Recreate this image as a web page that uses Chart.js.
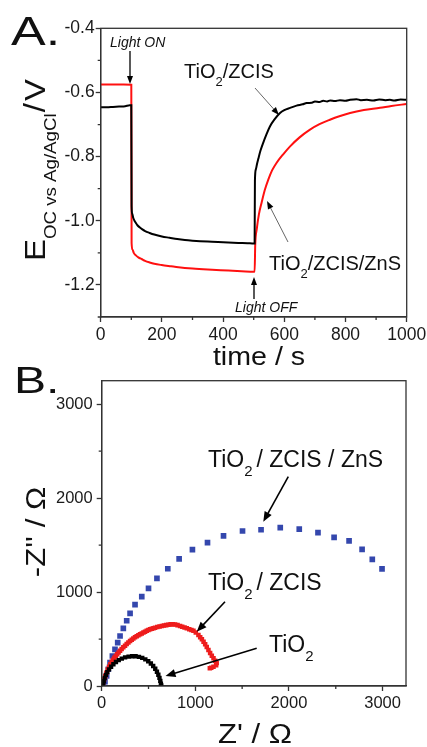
<!DOCTYPE html>
<html><head><meta charset="utf-8">
<script src="https://cdn.jsdelivr.net/npm/chart.js@4.4.1/dist/chart.umd.min.js"></script>
<style>
html,body{margin:0;padding:0;background:#fff;}
#wrap{position:relative;width:427px;height:747px;overflow:hidden;background:#fff;}
canvas{position:absolute;left:0;}
#ca{top:0;} #cb{top:340px;}
</style></head><body>
<div id="wrap"><canvas id="ca" width="427" height="372"></canvas><canvas id="cb" width="427" height="407"></canvas></div>
<script>
// ---------- Panel A: open-circuit voltage decay ----------
const timeZCIS = [0,20,40,60,80,95,100,101,103,106,110,115,120,128,135,145,160,175,200,225,250,275,300,350,400,450,480,500,503,504,507,511,515,522,531,542,553,568,586,600,619,640,660,673,690,700,715,727,740,750,765,782,800,815,836,850,870,891,910,930,945,960,980,1000];
const eocZCIS  = [-0.646,-0.646,-0.645,-0.644,-0.643,-0.640,-0.640,-0.955,-0.978,-0.990,-0.999,-1.007,-1.014,-1.021,-1.026,-1.032,-1.038,-1.043,-1.049,-1.053,-1.057,-1.060,-1.062,-1.065,-1.067,-1.069,-1.070,-1.071,-1.071,-0.875,-0.840,-0.822,-0.807,-0.782,-0.757,-0.730,-0.706,-0.684,-0.664,-0.655,-0.648,-0.641,-0.637,-0.633,-0.632,-0.628,-0.630,-0.626,-0.628,-0.625,-0.627,-0.624,-0.626,-0.623,-0.621,-0.624,-0.623,-0.625,-0.622,-0.624,-0.623,-0.625,-0.622,-0.623];
const timeZnS  = [0,25,50,75,100,101,104,108,115,123,135,145,160,175,199,230,254,300,350,417,460,500,503,505,510,517,526,536,548,560,575,597,619,650,684,715,749,780,815,860,913,950,1000];
const eocZnS   = [-0.575,-0.575,-0.575,-0.575,-0.576,-1.070,-1.090,-1.100,-1.108,-1.114,-1.120,-1.125,-1.130,-1.134,-1.138,-1.142,-1.145,-1.149,-1.152,-1.155,-1.157,-1.159,-1.159,-1.075,-1.026,-0.980,-0.943,-0.905,-0.871,-0.843,-0.819,-0.792,-0.768,-0.740,-0.716,-0.699,-0.685,-0.674,-0.664,-0.655,-0.648,-0.642,-0.636];
const timeTicks = [0,200,400,600,800,1000];
const timeTickLabels = ['0','200','400','600','800','1000'];
const timeMinorTicks = [100,300,500,700,900];
const eocTicks = [-1.2,-1.0,-0.8,-0.6,-0.4];
const eocTickLabels = ['-1.2','-1.0','-0.8','-0.6','-0.4'];
const eocMinorTicks = [-1.3,-1.1,-0.9,-0.7,-0.5];

// ---------- Panel B: Nyquist plots ----------
const zReTiO2 = [15,22,32,45,60,78,100,125,152,182,215,250,287,325,362,398,433,466,497,525,550,572,590,605,617,626,632,636];
const zImTiO2 = [15,50,85,118,148,177,205,232,256,276,292,305,313,317,316,310,299,283,263,240,213,184,152,120,87,55,25,5];
const zReZCIS = [8,15,25,38,50,64,78,92,107,121,135,150,165,180,196,213,231,249,267,285,303,321,338,356,374,392,410,428,446,463,481,499,517,535,553,570,594,618,642,665,689,712,736,760,784,810,837,860,885,909,935,958,980,1005,1033,1052,1070,1088,1105,1122,1140,1158,1176,1194,1212,1228,1222,1194,1170,1155];
const zImZCIS = [10,35,70,105,140,175,205,232,259,280,300,319,338,357,376,394,412,429,446,463,479,492,505,518,529,540,550,560,569,578,587,595,603,609,615,620,627,633,638,643,648,652,656,657,655,648,638,630,622,614,603,595,588,570,543,520,497,470,444,414,383,352,322,295,269,245,222,205,195,188];
const zReZnS  = [18,35,53,71,89,114,142,171,196,231,267,303,356,428,500,590,706,827,969,1130,1301,1504,1702,1907,2110,2310,2482,2642,2781,2890,2994];
const zImZnS  = [8,46,106,178,248,319,390,461,532,614,695,773,866,952,1039,1145,1248,1354,1452,1527,1598,1650,1663,1686,1670,1633,1582,1545,1455,1348,1247];
const zTicks = [0,1000,2000,3000];
const zTickLabels = ['0','1000','2000','3000'];
const zMinorTicks = [500,1500,2500];

// ---------- helpers ----------
const FF = "'Liberation Sans', Arial, Helvetica, sans-serif";
function pairs(xs, ys){ return xs.map((x,i)=>({x:x, y:ys[i]})); }
function txt(ctx, parts, x, y, o){
  o = o || {};
  ctx.save();
  ctx.translate(x, y);
  if (o.rot) ctx.rotate(o.rot);
  ctx.scale(o.sx || 1, 1);
  ctx.fillStyle = o.color || '#111';
  ctx.textBaseline = 'alphabetic';
  ctx.textAlign = 'left';
  let total = 0;
  parts.forEach(p => { ctx.font = (p.it ? 'italic ' : '') + p.s + 'px ' + FF; p.w = ctx.measureText(p.t).width + (p.g || 0); total += p.w; });
  let cx = o.align === 'center' ? -total/2 : (o.align === 'right' ? -total : 0);
  parts.forEach(p => { ctx.font = (p.it ? 'italic ' : '') + p.s + 'px ' + FF; ctx.fillText(p.t, cx, p.dy || 0); cx += p.w; });
  ctx.restore();
}
function arrow(ctx, x1, y1, x2, y2, o){
  o = o || {};
  const a = Math.atan2(y2-y1, x2-x1), hl = o.hl || 8, hw = o.hw || 3;
  ctx.save();
  ctx.strokeStyle = o.line || '#000'; ctx.lineWidth = o.lw || 1.2;
  ctx.beginPath(); ctx.moveTo(x1, y1); ctx.lineTo(x2 - Math.cos(a)*hl*0.7, y2 - Math.sin(a)*hl*0.7); ctx.stroke();
  ctx.fillStyle = o.head || '#000';
  ctx.beginPath(); ctx.moveTo(x2, y2);
  ctx.lineTo(x2 - hl*Math.cos(a) + hw*Math.sin(a), y2 - hl*Math.sin(a) - hw*Math.cos(a));
  ctx.lineTo(x2 - hl*Math.cos(a) - hw*Math.sin(a), y2 - hl*Math.sin(a) + hw*Math.cos(a));
  ctx.closePath(); ctx.fill();
  ctx.restore();
}
function frameAndMinor(chart, xs, ys, len){
  const {ctx, chartArea: a, scales} = chart;
  ctx.save();
  ctx.strokeStyle = '#333'; ctx.lineWidth = 1.3;
  ctx.strokeRect(a.left, a.top, a.right - a.left, a.bottom - a.top);
  ctx.beginPath();
  xs.forEach(v => { const p = scales.x.getPixelForValue(v); ctx.moveTo(p, a.bottom); ctx.lineTo(p, a.bottom + len); });
  ys.forEach(v => { const p = scales.y.getPixelForValue(v); ctx.moveTo(a.left, p); ctx.lineTo(a.left - len, p); });
  ctx.stroke();
  ctx.restore();
}
function fixTicks(values){ return s => { s.ticks = values.map(v => ({value: v})); }; }
function fixSize(prop, val){ return s => { s[prop] = val; s.paddingTop = 0; s.paddingBottom = 0; s.paddingLeft = 0; s.paddingRight = 0; }; }
function labelFor(values, labels){ return v => labels[values.findIndex(t => Math.abs(t - v) < 1e-6)]; }
const axisCommon = {
  border: {display: true, color: '#333', width: 1.3},
  grid: {drawOnChartArea: false, drawTicks: true, tickLength: 5, tickColor: '#333', tickWidth: 1.3}
};

// ---------- Chart A ----------
const plugA = {
  id: 'annA',
  afterDraw(chart){
    const ctx = chart.ctx;
    frameAndMinor(chart, timeMinorTicks, eocMinorTicks, 3);
    txt(ctx, [{t:'A.', s:40}], 11, 45, {sx:1.3});
    txt(ctx, [{t:'time / s', s:26}], 259, 365, {align:'center', sx:1.1});
    txt(ctx, [{t:'E', s:30}, {t:'OC vs Ag/AgCl', s:17, dy:11, g:1}, {t:'/', s:30, g:2}, {t:'V', s:30}], 45, 170, {rot:-Math.PI/2, align:'center', sx:1.1});
    txt(ctx, [{t:'Light ON', s:14, it:true}], 110, 47);
    arrow(ctx, 130, 51, 130, 84, {lw:1.3, hl:8, hw:3});
    txt(ctx, [{t:'Light OFF', s:14, it:true}], 235, 312);
    arrow(ctx, 254, 299, 254, 277, {lw:1.3, hl:8, hw:3});
    txt(ctx, [{t:'TiO', s:20}, {t:'2', s:13, dy:8}, {t:'/ZCIS', s:20}], 184, 78);
    arrow(ctx, 255, 88, 279, 115, {line:'#666', lw:1, hl:8, hw:3});
    txt(ctx, [{t:'TiO', s:20}, {t:'2', s:13, dy:8}, {t:'/ZCIS/ZnS', s:20}], 269, 270);
    arrow(ctx, 288, 242, 267, 201, {line:'#666', lw:1, hl:8, hw:3});
  }
};
new Chart(document.getElementById('ca'), {
  type: 'line',
  data: {
    datasets: [
      {label: 'TiO2/ZCIS', data: pairs(timeZCIS, eocZCIS), borderColor: '#000', borderWidth: 2, pointRadius: 0, cubicInterpolationMode: 'monotone'},
      {label: 'TiO2/ZCIS/ZnS', data: pairs(timeZnS, eocZnS), borderColor: '#ff1010', borderWidth: 2, pointRadius: 0, cubicInterpolationMode: 'monotone'}
    ]
  },
  options: {
    responsive: false, animation: false, devicePixelRatio: 1,
    layout: {padding: {left: 0, right: 20.3, top: 28.3, bottom: 0}},
    plugins: {legend: {display: false}, tooltip: {enabled: false}},
    scales: {
      x: Object.assign({type: 'linear', min: 0, max: 1000,
        afterBuildTicks: fixTicks(timeTicks), afterFit: fixSize('height', 55),
        ticks: {color: '#1a1a1a', font: {family: FF, size: 17.5}, padding: 3, maxRotation: 0, autoSkip: false,
          callback: labelFor(timeTicks, timeTickLabels)}}, axisCommon),
      y: Object.assign({type: 'linear', min: -1.3, max: -0.4,
        afterBuildTicks: fixTicks(eocTicks), afterFit: fixSize('width', 100.7),
        ticks: {color: '#1a1a1a', font: {family: FF, size: 17.5}, padding: 1, autoSkip: false,
          callback: labelFor(eocTicks, eocTickLabels)}}, axisCommon)
    }
  },
  plugins: [plugA]
});

// ---------- Chart B ----------
const OB = 340;
const plugB = {
  id: 'annB',
  afterDraw(chart){
    const ctx = chart.ctx;
    frameAndMinor(chart, zMinorTicks, zMinorTicks, 3);
    txt(ctx, [{t:'B.', s:37}], 14, 393 - OB, {sx:1.3});
    txt(ctx, [{t:"Z' / \u03A9", s:27}], 255, 743 - OB, {align:'center', sx:1.15});
    txt(ctx, [{t:"-Z'' / \u03A9", s:27}], 45, 532 - OB, {rot:-Math.PI/2, align:'center', sx:1.15});
    txt(ctx, [{t:'TiO', s:23}, {t:'2', s:15, dy:9, g:4}, {t:'/ ZCIS / ZnS', s:23}], 208, 466.7 - OB);
    arrow(ctx, 288.3, 476.7 - OB, 263.3, 521.7 - OB, {lw:1.6, hl:10, hw:4});
    txt(ctx, [{t:'TiO', s:23}, {t:'2', s:15, dy:9, g:4}, {t:'/ ZCIS', s:23}], 208, 590 - OB);
    arrow(ctx, 225, 601.7 - OB, 196.7, 631.7 - OB, {lw:1.6, hl:10, hw:4});
    txt(ctx, [{t:'TiO', s:23}, {t:'2', s:15, dy:9}], 269, 651.7 - OB);
    arrow(ctx, 256.7, 648.3 - OB, 165.5, 676 - OB, {lw:1.6, hl:10, hw:4});
  }
};
new Chart(document.getElementById('cb'), {
  type: 'scatter',
  data: {
    datasets: [
      {label: 'TiO2', data: pairs(zReTiO2, zImTiO2), pointStyle: 'rect', pointRadius: 3.1, pointBorderWidth: 0, backgroundColor: '#000', borderColor: '#000'},
      {label: 'TiO2 / ZCIS', data: pairs(zReZCIS, zImZCIS), pointStyle: 'rect', pointRadius: 3.2, pointBorderWidth: 0, backgroundColor: '#ee1c1c', borderColor: '#ee1c1c'},
      {label: 'TiO2 / ZCIS / ZnS', data: pairs(zReZnS, zImZnS), pointStyle: 'rect', pointRadius: 4, pointBorderWidth: 0, backgroundColor: '#3447ad', borderColor: '#3447ad'}
    ]
  },
  options: {
    responsive: false, animation: false, devicePixelRatio: 1,
    layout: {padding: {left: 0, right: 21, top: 40.7, bottom: 0}},
    plugins: {legend: {display: false}, tooltip: {enabled: false}},
    scales: {
      x: Object.assign({type: 'linear', min: 0, max: 3250,
        afterBuildTicks: fixTicks(zTicks), afterFit: fixSize('height', 61),
        ticks: {color: '#1a1a1a', font: {family: FF, size: 16.5}, padding: 3, maxRotation: 0, autoSkip: false,
          callback: labelFor(zTicks, zTickLabels)}}, axisCommon),
      y: Object.assign({type: 'linear', min: 0, max: 3250,
        afterBuildTicks: fixTicks(zTicks), afterFit: fixSize('width', 101.7),
        ticks: {color: '#1a1a1a', font: {family: FF, size: 16.5}, padding: 4, autoSkip: false,
          callback: labelFor(zTicks, zTickLabels)}}, axisCommon)
    }
  },
  plugins: [plugB]
});
</script>
</body></html>
